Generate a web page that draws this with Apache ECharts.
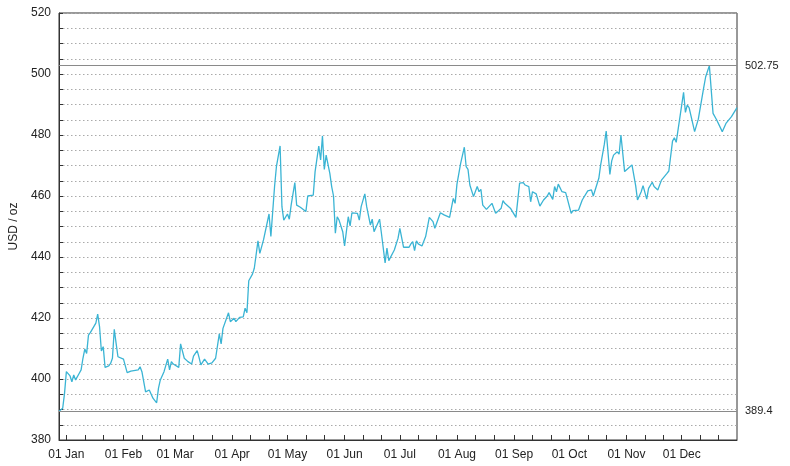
<!DOCTYPE html>
<html>
<head>
<meta charset="utf-8">
<script src="https://cdn.jsdelivr.net/npm/echarts@6/dist/echarts.min.js"></script>
<style>
html,body{margin:0;padding:0;background:#fff;}
#chart{width:790px;height:466px;}
</style>
</head>
<body>
<div id="chart"></div>
<script>
var dates = [
'2004-12-28','2004-12-30','2004-12-31','2005-01-01','2005-01-03','2005-01-04','2005-01-05','2005-01-06','2005-01-08','2005-01-09',
'2005-01-10','2005-01-11','2005-01-12','2005-01-13','2005-01-14','2005-01-15','2005-01-17','2005-01-18','2005-01-19','2005-01-20',
'2005-01-21','2005-01-22','2005-01-24','2005-01-25','2005-01-26','2005-01-27','2005-01-28','2005-01-29','2005-02-01','2005-02-03',
'2005-02-05','2005-02-09','2005-02-10','2005-02-11','2005-02-13','2005-02-14','2005-02-15','2005-02-17','2005-02-19','2005-02-20',
'2005-02-21','2005-02-23','2005-02-24','2005-02-25','2005-02-26','2005-02-27','2005-02-28','2005-03-03','2005-03-04','2005-03-06',
'2005-03-08','2005-03-10','2005-03-11','2005-03-13','2005-03-14','2005-03-15','2005-03-17','2005-03-19','2005-03-21','2005-03-23',
'2005-03-25','2005-03-26','2005-03-27','2005-03-30','2005-03-31','2005-04-02','2005-04-03','2005-04-05','2005-04-07','2005-04-08',
'2005-04-09','2005-04-10','2005-04-12','2005-04-13','2005-04-15','2005-04-16','2005-04-18','2005-04-21','2005-04-22','2005-04-24',
'2005-04-25','2005-04-27','2005-04-28','2005-04-29','2005-05-01','2005-05-02','2005-05-03','2005-05-05','2005-05-06','2005-05-08',
'2005-05-11','2005-05-12','2005-05-13','2005-05-15','2005-05-16','2005-05-18','2005-05-19','2005-05-20','2005-05-21','2005-05-22',
'2005-05-24','2005-05-25','2005-05-26','2005-05-27','2005-05-28','2005-05-29','2005-05-31','2005-06-01','2005-06-03','2005-06-04',
'2005-06-05','2005-06-08','2005-06-09','2005-06-10','2005-06-11','2005-06-12','2005-06-13','2005-06-15','2005-06-16','2005-06-17',
'2005-06-20','2005-06-21','2005-06-23','2005-06-24','2005-06-25','2005-06-28','2005-06-30','2005-07-01','2005-07-03','2005-07-06',
'2005-07-07','2005-07-08','2005-07-09','2005-07-10','2005-07-11','2005-07-13','2005-07-15','2005-07-17','2005-07-19','2005-07-20',
'2005-07-23','2005-07-25','2005-07-28','2005-07-30','2005-07-31','2005-08-01','2005-08-03','2005-08-05','2005-08-06','2005-08-07',
'2005-08-08','2005-08-10','2005-08-12','2005-08-13','2005-08-14','2005-08-15','2005-08-17','2005-08-18','2005-08-20','2005-08-21',
'2005-08-22','2005-08-25','2005-08-26','2005-08-27','2005-08-28','2005-08-30','2005-09-02','2005-09-04','2005-09-06','2005-09-07',
'2005-09-09','2005-09-10','2005-09-11','2005-09-13','2005-09-15','2005-09-17','2005-09-19','2005-09-20','2005-09-22','2005-09-23',
'2005-09-24','2005-09-25','2005-09-27','2005-09-29','2005-09-30','2005-10-01','2005-10-02','2005-10-03','2005-10-06','2005-10-08',
'2005-10-09','2005-10-11','2005-10-13','2005-10-14','2005-10-15','2005-10-17','2005-10-18','2005-10-20','2005-10-21','2005-10-23',
'2005-10-24','2005-10-25','2005-10-27','2005-10-28','2005-10-29','2005-10-31','2005-11-02','2005-11-04','2005-11-06','2005-11-07',
'2005-11-09','2005-11-10','2005-11-12','2005-11-13','2005-11-15','2005-11-16','2005-11-18','2005-11-20','2005-11-23','2005-11-24',
'2005-11-26','2005-11-27','2005-11-28','2005-12-02','2005-12-03','2005-12-04','2005-12-05','2005-12-08','2005-12-10','2005-12-11',
'2005-12-13','2005-12-14','2005-12-16','2005-12-18','2005-12-19','2005-12-20','2005-12-23','2005-12-25','2005-12-28','2005-12-31'
];
var prices = [
389.4,390.4,395.3,402.4,401.0,399.1,401.3,399.7,401.9,403.0,
406.8,409.8,408.4,414.4,415.2,414.8,418.3,421.3,417.2,409.2,
410.6,403.8,404.3,405.1,406.8,416.3,411.7,407.3,406.5,402.1,
402.6,403.0,404.0,402.4,395.8,396.1,396.4,393.7,392.2,397.0,
399.7,402.4,401.9,406.5,403.0,405.7,404.9,403.8,411.5,406.8,
405.7,404.9,407.5,409.3,407.1,404.6,406.5,404.9,405.3,406.8,
414.8,411.5,416.6,421.7,418.8,419.9,418.8,420.2,420.4,423.2,
421.7,432.2,434.4,436.3,445.3,441.2,445.6,454.1,446.7,463.1,
469.6,476.4,456.5,452.1,454.1,452.4,457.0,464.4,457.0,456.3,
454.9,460.0,460.0,460.3,468.0,476.4,471.8,479.7,468.7,473.4,
467.4,463.1,460.0,447.8,453.2,452.1,448.3,443.6,453.2,450.2,
454.5,454.3,452.1,456.5,456.0,460.7,456.5,450.5,452.4,448.3,
452.4,447.8,438.1,442.9,438.8,442.3,446.1,449.4,443.2,443.2,
444.3,445.0,442.1,445.3,444.3,443.6,446.7,453.0,451.6,449.4,
454.5,453.8,453.0,459.2,457.6,463.9,470.7,476.0,469.6,468.7,
463.6,459.8,463.1,461.4,462.2,457.0,455.6,455.2,457.6,457.0,
454.3,456.0,458.5,457.6,458.1,456.0,453.0,464.2,464.4,463.6,
463.1,458.1,461.4,460.7,456.7,458.7,460.0,461.1,458.9,463.1,
461.4,463.9,461.4,461.1,458.9,459.2,454.3,455.2,455.4,458.7,
458.7,461.7,462.0,460.0,459.8,465.8,470.2,477.0,481.3,467.1,
471.5,473.4,474.5,473.7,480.0,468.0,469.1,470.2,463.4,458.7,
461.4,463.4,459.0,462.5,464.5,463.1,462.0,465.2,467.4,468.2,
478.0,479.1,477.6,494.0,487.4,489.8,489.0,481.1,485.2,484.9,
495.8,499.1,502.75,487.1,487.6,484.9,481.1,483.8,486.0,489.0
];
var refLevels = [502.75, 389.4];
var monthLabelDates = ['2005-01-01','2005-02-01','2005-03-01','2005-04-01','2005-05-01','2005-06-01',
  '2005-07-01','2005-08-01','2005-09-01','2005-10-01','2005-11-01','2005-12-01'];
var monthNames = ['Jan','Feb','Mar','Apr','May','Jun','Jul','Aug','Sep','Oct','Nov','Dec'];
var tickDays = [1, 11, 21];
var xMinDate = '2004-12-28';
var xMaxDate = '2005-12-31';
var yMin = 380, yMax = 520, yStep = 20;
var axisTitle = 'USD / oz';

function ts(s){ var p = s.split('-'); return new Date(+p[0], +p[1]-1, +p[2]).getTime(); }

var seriesData = dates.map(function(d,i){ return [ts(d), prices[i]]; });
var labelVals = monthLabelDates.map(ts);
var tickVals = [];
monthLabelDates.forEach(function(m){
  var p = m.split('-');
  tickDays.forEach(function(dd){ tickVals.push(new Date(+p[0], +p[1]-1, dd).getTime()); });
});

var font = 'Liberation Sans, Arial, sans-serif';
var chart = echarts.init(document.getElementById('chart'), null, {renderer:'canvas'});
chart.setOption({
  animation: false,
  backgroundColor: '#ffffff',
  grid: {left: 59, right: 53, top: 13, bottom: 26, show: true, borderColor: '#333', borderWidth: 1, backgroundColor: 'transparent'},
  xAxis: {
    type: 'value',
    min: ts(xMinDate), max: ts(xMaxDate),
    axisLine: {show: true, lineStyle: {color: '#333', width: 1}},
    axisTick: {show: true, inside: true, length: 5, customValues: tickVals, lineStyle: {color: '#333'}},
    axisLabel: {
      customValues: labelVals, color: '#222', fontSize: 12, fontFamily: font, margin: 9,
      showMinLabel: true, showMaxLabel: true, hideOverlap: false,
      formatter: function(v){ var d = new Date(v); var dd = d.getDate(); return (dd<10?'0':'')+dd+' '+monthNames[d.getMonth()]; }
    },
    splitLine: {show: false}
  },
  yAxis: {
    type: 'value', min: yMin, max: yMax, interval: yStep,
    name: axisTitle, nameLocation: 'middle', nameGap: 38, nameRotate: 90,
    nameTextStyle: {color: '#222', fontSize: 12, fontFamily: font},
    axisLine: {show: true, lineStyle: {color: '#333', width: 1}},
    axisTick: {show: true, inside: true, length: 4, lineStyle: {color: '#333'}},
    minorTick: {show: true, splitNumber: 4, length: 4, lineStyle: {color: '#333'}},
    axisLabel: {color: '#222', fontSize: 12, fontFamily: font, margin: 8},
    splitLine: {show: true, lineStyle: {color: '#aaa', type: [1.5, 2.5], width: 1}},
    minorSplitLine: {show: true, lineStyle: {color: '#aaa', type: [1.5, 2.5], width: 1}}
  },
  series: [{
    type: 'line',
    data: seriesData,
    showSymbol: false,
    symbol: 'none',
    lineStyle: {color: '#3ab4d4', width: 1.3},
    markLine: {
      silent: true, symbol: ['none','none'],
      lineStyle: {color: '#8a8a8a', type: 'solid', width: 1},
      label: {show: true, position: 'end', distance: 8, color: '#222', fontSize: 11, fontFamily: font, formatter: '{c}'},
      data: refLevels.map(function(v){ return {yAxis: v}; })
    }
  }]
});
</script>
</body>
</html>
